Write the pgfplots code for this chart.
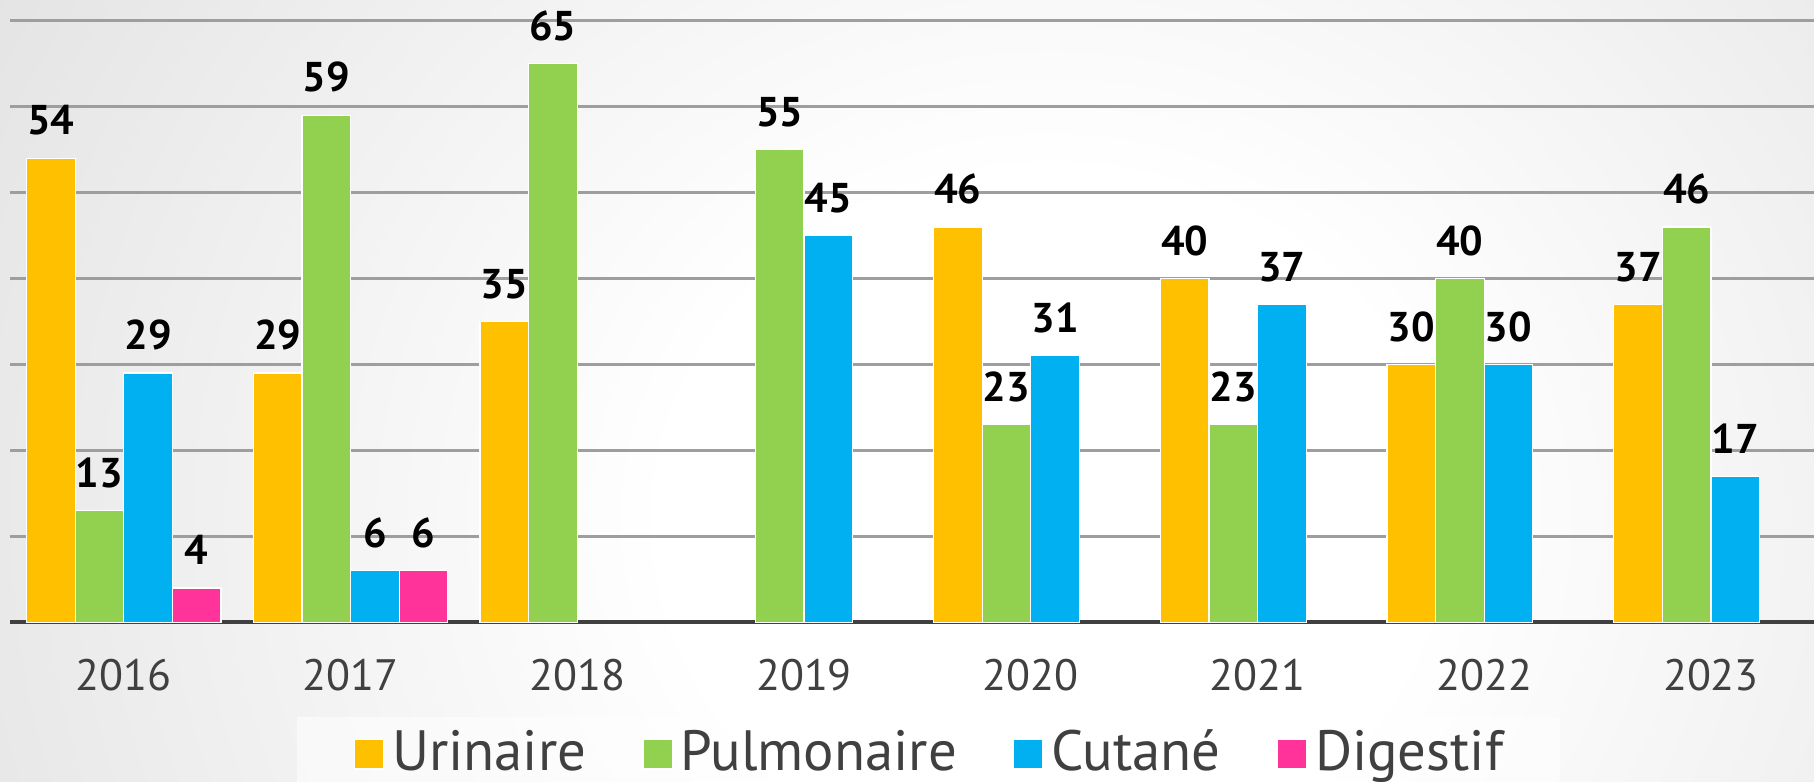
\documentclass[border=0pt]{standalone}
\usepackage{fontspec}
\setmainfont{PT Sans}
\usepackage{pgfplots}
\pgfplotsset{compat=1.18}
\definecolor{cOr}{HTML}{FFC000}
\definecolor{cGr}{HTML}{92D050}
\definecolor{cBl}{HTML}{00B0F0}
\definecolor{cPk}{HTML}{FF3399}
\definecolor{cTx}{HTML}{404040}
\pgfdeclareradialshading{bgshade}{\pgfpoint{0bp}{0bp}}{color(0bp)=(white); color(8bp)=(white); color(42bp)=(black!21); color(60bp)=(black!28); color(75bp)=(black!30)}
\pgfplotsset{sqleg/.style={legend image code/.code={\fill[##1, fill opacity=1] (0pt,-4pt) rectangle (7.3pt,3.3pt);}}}
\begin{document}
\begin{tikzpicture}
\useasboundingbox (0,0) rectangle (453.5pt,195.5pt);
\clip (0,0) rectangle (453.5pt,195.5pt);
\shade[shading=bgshade] (-37.5pt,-204.5pt) rectangle (562.5pt,335.5pt);
\begin{axis}[
  at={(2.6pt,39.875pt)}, anchor=south west,
  scale only axis, width=453.5pt, height=150.5pt,
  xmin=-0.5, xmax=7.5, ymin=0, ymax=70,
  clip=false,
  ybar, bar width=12.15pt,
  axis x line=bottom, axis y line=left,
  x axis line style={-, draw=cTx, line width=1pt},
  y axis line style={draw=none},
  xtick={0,...,7}, xticklabels={2016,2017,2018,2019,2020,2021,2022,2023},
  ytick={10,20,...,70}, yticklabels={},
  major tick length=0pt,
  ymajorgrids, major grid style={draw=black!38, line width=0.6pt},
  xticklabel style={font=\fontsize{11}{13}\selectfont, text=cTx, anchor=base, yshift=-16.9pt},
  /pgf/number format/assume math mode=true,
  nodes near coords,
  every node near coord/.append style={font=\bfseries\fontsize{10.4}{12}\selectfont, text=black, anchor=base, yshift=5.8pt},
  legend style={at={(0.1574,-0.1553)}, anchor=north west, legend columns=4,
    draw=none, fill=white, fill opacity=0.55, text opacity=1,
    font=\fontsize{14.2}{16}\selectfont, text=cTx,
    inner xsep=14.25pt, inner ysep=2.7pt,
    nodes={inner xsep=0pt, inner ysep=0.5pt},
    /tikz/every odd column/.append style={column sep=2pt},
    /tikz/every even column/.append style={column sep=14pt}},
  legend cell align=left,
]
\addplot[fill=cOr, draw=white, line width=0.3pt, bar shift=-18.225pt, sqleg] coordinates {(0,54) (1,29) (2,35) (4,46) (5,40) (6,30) (7,37)};
\addplot[fill=cGr, draw=white, line width=0.3pt, bar shift=-6.075pt, sqleg] coordinates {(0,13) (1,59) (2,65) (3,55) (4,23) (5,23) (6,40) (7,46)};
\addplot[fill=cBl, draw=white, line width=0.3pt, bar shift=6.075pt, sqleg] coordinates {(0,29) (1,6) (3,45) (4,31) (5,37) (6,30) (7,17)};
\addplot[fill=cPk, draw=white, line width=0.3pt, bar shift=18.225pt, sqleg] coordinates {(0,4) (1,6)};
\legend{Urinaire,Pulmonaire,Cutané,Digestif}
\end{axis}
\end{tikzpicture}
\end{document}
